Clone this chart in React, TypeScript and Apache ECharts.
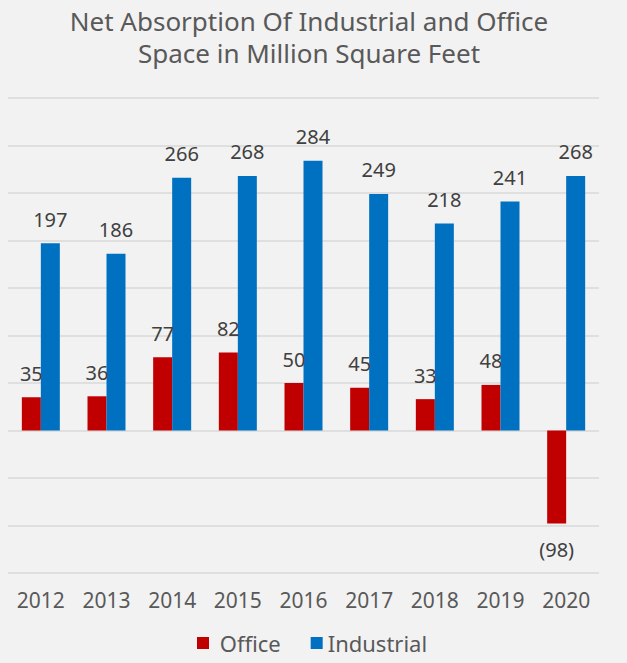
import React, { useEffect, useRef } from "react";
import * as echarts from "echarts";

const years = ["2012", "2013", "2014", "2015", "2016", "2017", "2018", "2019", "2020"];
const office = [35, 36, 77, 82, 50, 45, 33, 48, -98];
const industrial = [197, 186, 266, 268, 284, 249, 218, 241, 268];

const FONT = "'Noto Sans', sans-serif";

export default function App() {
  const ref = useRef<HTMLDivElement>(null);
  useEffect(() => {
    document.body.style.margin = "0";
    const chart = echarts.init(ref.current!, undefined, { renderer: "svg" });
    const fmt = (p: any) => (p.value < 0 ? `(${-p.value})` : `${p.value}`);
    const labelStyle = {
      show: true,
      position: "top",
      distance: 14,
      color: "#404040",
      fontSize: 20,
      fontFamily: FONT,
      formatter: fmt,
    };
    chart.setOption({
      animation: false,
      backgroundColor: "#f2f2f2",
      title: {
        text: "Net Absorption Of Industrial and Office\nSpace in Million Square Feet",
        left: 304,
        top: 0,
        textAlign: "center",
        textStyle: {
          color: "#595959",
          fontSize: 26,
          fontWeight: "normal",
          fontFamily: FONT,
          lineHeight: 32,
        },
      },
      legend: {
        left: 192,
        top: 627,
        itemWidth: 12,
        itemHeight: 12,
        itemGap: 30,
        icon: "rect",
        formatter: (name: string) => (name === "Office" ? " " + name : name),
        textStyle: { color: "#595959", fontSize: 22, fontFamily: FONT },
        data: ["Office", "Industrial"],
      },
      grid: { left: 8, right: 28, top: 98, bottom: 90, containLabel: false },
      xAxis: {
        type: "category",
        data: years,
        axisLine: { show: false, onZero: false },
        axisTick: { show: false },
        axisLabel: { color: "#595959", fontSize: 21, fontFamily: FONT, margin: 16 },
      },
      yAxis: {
        type: "value",
        min: -150,
        max: 350,
        interval: 50,
        axisLabel: { show: false },
        axisLine: { show: false },
        axisTick: { show: false },
        splitLine: { lineStyle: { color: "#d9d9d9", width: 1.5 } },
      },
      series: [
        {
          name: "Office",
          type: "bar",
          barWidth: 19,
          barGap: "0%",
          itemStyle: { color: "#c00000" },
          label: labelStyle,
          data: office.map((v) =>
            v < 0 ? { value: v, label: { position: "bottom", distance: 16 } } : v
          ),
        },
        {
          name: "Industrial",
          type: "bar",
          barWidth: 19,
          barGap: "0%",
          itemStyle: { color: "#0070c0" },
          label: labelStyle,
          data: industrial,
        },
      ],
    });
    return () => chart.dispose();
  }, []);
  return (
    <div
      ref={ref}
      style={{ position: "fixed", left: 0, top: 0, width: 627, height: 663 }}
    />
  );
}
